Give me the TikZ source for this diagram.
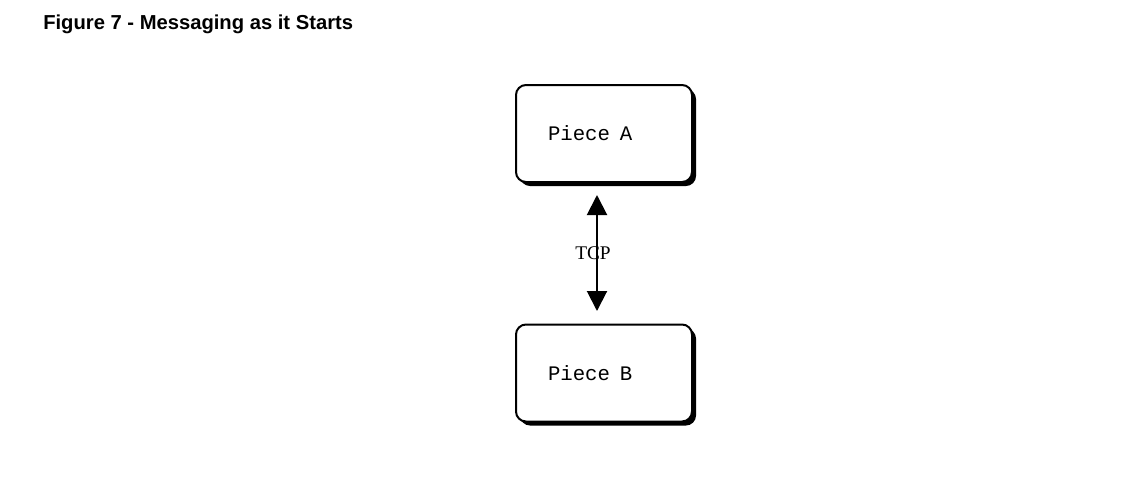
\documentclass[tikz,border=0pt]{standalone}
\usepackage{fontspec}
\setmainfont{Liberation Serif}
\setsansfont{Liberation Sans}
\setmonofont{Liberation Mono}
\usepackage{tikz}
\usetikzlibrary{arrows.meta}
\usetikzlibrary{shadows}

\begin{document}
\begin{tikzpicture}[x=0.75pt, y=-0.75pt,
	piecebox/.style={draw, line width=1.5pt, rounded corners=7.5pt, fill=white,
		minimum height=72.75pt, text width=84pt, inner xsep=24pt, align=left,
		font=\ttfamily\fontsize{15.5}{18}\selectfont,
		drop shadow={shadow xshift=3pt, shadow yshift=-3pt, fill=black, opacity=1}},
	tcplink/.style={line width=1.5pt, {Triangle[length=15pt,width=15pt]}-{Triangle[length=15pt,width=15pt]}}]
	\useasboundingbox (0,0) rectangle (1143,494);
	\node[anchor=base west, inner sep=0pt, font=\sffamily\bfseries\fontsize{15.15}{18}\selectfont] (title) at (43,29) {Figure 7 - Messaging as it Starts};
	\node[piecebox] (pieceA) at (604,133.5) {Piece\ \hspace{2.25pt}A};
	\node[piecebox] (pieceB) at (604,373) {Piece\ \hspace{2.25pt}B};
	\coordinate (tcpTop) at (597,195);
	\coordinate (tcpBot) at (597,311);
	\draw[tcplink] (tcpTop) -- (tcpBot) node[midway, xshift=-3pt, font=\fontsize{14.5}{17}\selectfont] (tcp) {TCP};
\end{tikzpicture}
\end{document}
